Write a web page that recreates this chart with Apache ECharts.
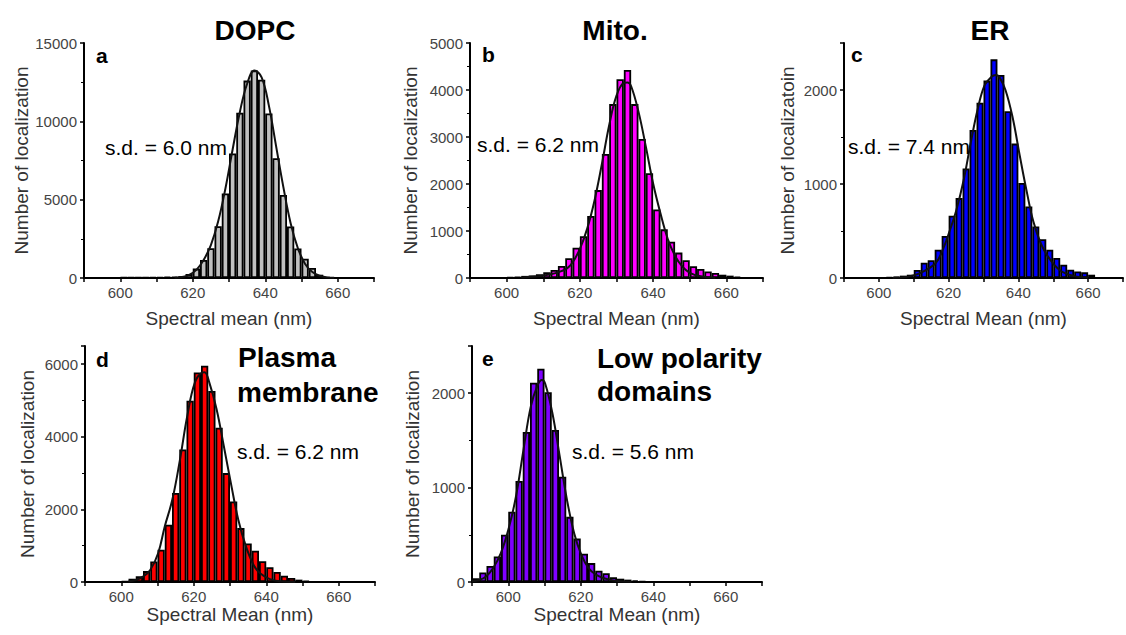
<!DOCTYPE html>
<html>
<head>
<meta charset="utf-8">
<title>Spectral mean histograms</title>
<script src="https://cdn.jsdelivr.net/npm/echarts@6/dist/echarts.min.js"></script>
<style>
html, body { margin: 0; padding: 0; background: #fff; }
#chart { width: 1126px; height: 635px; }
</style>
</head>
<body>
<div id="chart"></div>
<script>
// ---- data (2 nm bins, bin centres in nm) ----

// a - DOPC
var dopcBins   = [601, 603, 605, 607, 609, 611, 613, 615, 617, 619, 621, 623, 625, 627, 629, 631, 633, 635, 637, 639, 641, 643, 645, 647, 649, 651, 653, 655, 657];
var dopcCounts = [30, 30, 40, 40, 50, 60, 70, 90, 120, 250, 600, 1150, 1900, 3300, 5400, 7950, 10550, 12600, 13250, 12650, 10500, 7640, 5300, 3290, 1880, 1230, 640, 210, 60];
var dopcFitX   = [615, 617, 619, 621, 623, 625, 627, 629, 631, 633, 635, 637, 639, 641, 643, 645, 647, 649, 651, 653, 655, 657, 659];
var dopcFitY   = [20, 60, 200, 520, 1150, 2100, 3600, 5700, 8200, 10600, 12400, 13250, 12800, 11000, 8400, 5800, 3500, 1900, 900, 380, 140, 40, 10];

// b - Mito.
var mitoBins   = [601, 603, 605, 607, 609, 611, 613, 615, 617, 619, 621, 623, 625, 627, 629, 631, 633, 635, 637, 639, 641, 643, 645, 647, 649, 651, 653, 655, 657, 659, 661, 663];
var mitoCounts = [20, 25, 45, 55, 80, 120, 170, 255, 420, 645, 890, 1320, 1870, 2640, 3700, 4230, 4425, 3700, 2960, 2230, 1460, 1035, 770, 540, 380, 250, 190, 140, 105, 70, 50, 30];
var mitoFitX   = [604, 608, 612, 614, 616.4, 618, 620, 622, 624, 626, 628, 630, 632, 633, 634, 636, 638, 640, 642, 644, 646, 648, 650, 653, 657];
var mitoFitY   = [10, 30, 80, 120, 200, 330, 620, 1050, 1650, 2420, 3250, 3880, 4150, 4160, 4080, 3540, 2800, 2010, 1375, 830, 470, 240, 110, 35, 5];

// c - ER
var erBins   = [603, 605, 607, 609, 611, 613, 615, 617, 619, 621, 623, 625, 627, 629, 631, 633, 635, 637, 639, 641, 643, 645, 647, 649, 651, 653, 655, 657, 659, 661];
var erCounts = [10, 15, 25, 35, 85, 163, 190, 300, 447, 663, 850, 1165, 1575, 1865, 2100, 2326, 2160, 1775, 1430, 1010, 760, 548, 413, 300, 212, 141, 88, 70, 60, 35];
var erFitX   = [604, 608, 612, 616.3, 618.3, 620.2, 622.2, 624.3, 626.4, 628.3, 630.3, 632.3, 633.5, 634.5, 636.3, 638.4, 640.4, 642.5, 644.3, 646.4, 648.5, 652, 656, 660];
var erFitY   = [3, 12, 55, 160, 300, 490, 720, 1040, 1450, 1790, 2050, 2140, 2160, 2140, 2000, 1700, 1300, 900, 600, 370, 227, 80, 20, 5];

// d - Plasma membrane
var pmBins   = [601, 603, 605, 607, 609, 611, 613, 615, 617, 619, 621, 623, 625, 627, 629, 631, 633, 635, 637, 639, 641, 643, 645, 647, 649, 651];
var pmCounts = [20, 90, 160, 300, 565, 890, 1580, 2450, 3650, 4990, 5770, 5954, 5260, 4250, 3000, 2220, 1485, 1060, 860, 570, 405, 277, 175, 110, 65, 37];
var pmFitX   = [602, 604, 606, 608, 610.2, 612, 614.1, 616.2, 618.2, 620.3, 622.3, 623, 624.3, 626.3, 628.3, 630.4, 632.3, 634.4, 636.5, 638.3, 641, 644, 648];
var pmFitY   = [20, 55, 150, 330, 800, 1530, 2270, 3370, 4570, 5490, 5770, 5780, 5490, 4760, 3740, 2640, 1710, 980, 470, 240, 80, 20, 3];

// e - Low polarity domains
var lpBins   = [591, 593, 595, 597, 599, 601, 603, 605, 607, 609, 611, 613, 615, 617, 619, 621, 623, 625, 627, 629, 631, 633, 635, 637];
var lpCounts = [40, 100, 170, 270, 500, 745, 1070, 1590, 2110, 2260, 2010, 1610, 1115, 690, 460, 300, 200, 120, 92, 50, 35, 25, 18, 10];
var lpFitX   = [590, 591.9, 593.8, 595.8, 597.9, 600, 602.1, 604.2, 606.2, 608.1, 609.3, 610.2, 612.2, 614.2, 616.2, 618.2, 620.2, 622.2, 624.3, 626.4, 630, 634];
var lpFitY   = [8, 20, 56, 145, 300, 550, 900, 1400, 1855, 2085, 2140, 2100, 1785, 1330, 870, 515, 285, 145, 75, 40, 10, 2];

var sdLabels = ['s.d. = 6.0 nm', 's.d. = 6.2 nm', 's.d. = 7.4 nm', 's.d. = 6.2 nm', 's.d. = 5.6 nm'];

// ---- layout ----
var FONT = 'Arial, "Liberation Sans", Helvetica, sans-serif';

var panels = [
	{ bins: dopcBins, counts: dopcCounts, fx: dopcFitX, fy: dopcFitY, color: '#c0c0c0',
	  left: 84, top: 43, width: 290, height: 235, yMax: 15000, yStep: 5000,
	  yName: 'Number of localization', xName: 'Spectral mean (nm)', xGap: 31, yGap: 52 },
	{ bins: mitoBins, counts: mitoCounts, fx: mitoFitX, fy: mitoFitY, color: '#ff00ff',
	  left: 470, top: 43, width: 293, height: 235, yMax: 5000, yStep: 1000,
	  yName: 'Number of localization', xName: 'Spectral Mean (nm)', xGap: 31, yGap: 50 },
	{ bins: erBins, counts: erCounts, fx: erFitX, fy: erFitY, color: '#0000ff',
	  left: 844, top: 43, width: 290, height: 235, yMax: 2500, yStep: 1000,
	  yName: 'Number of localizatoin', xName: 'Spectral Mean (nm)', xGap: 31, yGap: 47 },
	{ bins: pmBins, counts: pmCounts, fx: pmFitX, fy: pmFitY, color: '#ff0000',
	  left: 85, top: 346, width: 290, height: 236, yMax: 6500, yStep: 2000,
	  yName: 'Number of localization', xName: 'Spectral Mean (nm)', xGap: 23, yGap: 48 },
	{ bins: lpBins, counts: lpCounts, fx: lpFitX, fy: lpFitY, color: '#7f00ff',
	  left: 472, top: 346, width: 290, height: 236, yMax: 2500, yStep: 1000,
	  yName: 'Number of localization', xName: 'Spectral Mean (nm)', xGap: 23, yGap: 50 }
];

var grids = [], xAxes = [], yAxes = [], series = [];

panels.forEach(function (p, i) {
	grids.push({ left: p.left, top: p.top, width: p.width, height: p.height });

	xAxes.push({
		gridIndex: i, type: 'value', min: 590, max: 670, interval: 10,
		name: p.xName, nameLocation: 'middle', nameGap: p.xGap,
		nameTextStyle: { fontFamily: FONT, fontSize: 19, color: '#333' },
		axisLine: { lineStyle: { color: '#000', width: 2 } },
		axisTick: { length: 4, lineStyle: { color: '#000', width: 1.5 } },
		axisLabel: {
			margin: 7, fontFamily: FONT, fontSize: 15, color: '#444',
			formatter: function (v) { return (v % 20 === 0 && v > 590 && v < 670) ? String(v) : ''; }
		},
		splitLine: { show: false }
	});

	yAxes.push({
		gridIndex: i, type: 'value', min: 0, max: p.yMax, interval: p.yStep,
		name: p.yName, nameLocation: 'middle', nameGap: p.yGap,
		nameTextStyle: { fontFamily: FONT, fontSize: 19, color: '#333' },
		axisLine: { show: true, lineStyle: { color: '#000', width: 2 } },
		axisTick: { show: true, length: 4, lineStyle: { color: '#000', width: 1.5 } },
		minorTick: { show: true, splitNumber: 2, length: 3, lineStyle: { color: '#000', width: 1 } },
		axisLabel: {
			margin: 7, fontFamily: FONT, fontSize: 15, color: '#444',
			formatter: function (v) { return v % p.yStep === 0 ? String(v) : ''; }
		},
		splitLine: { show: false }
	});

	series.push({
		type: 'bar', xAxisIndex: i, yAxisIndex: i,
		barWidth: '100%',
		data: p.bins.map(function (b, k) { return [b, p.counts[k]]; }),
		itemStyle: { color: p.color, borderColor: '#000', borderWidth: 1.8 },
		silent: true, animation: false
	});

	series.push({
		type: 'line', xAxisIndex: i, yAxisIndex: i,
		data: p.fx.map(function (x, k) { return [x, p.fy[k]]; }),
		smooth: 0.4, showSymbol: false, z: 5,
		lineStyle: { color: '#111', width: 2 },
		silent: true, animation: false
	});
});

function txt(x, y, s, size, bold, align) {
	return {
		type: 'text', x: x, y: y, z: 100,
		style: {
			text: s, fill: '#000',
			font: (bold ? 'bold ' : '') + size + 'px ' + FONT,
			align: align || 'left', verticalAlign: 'middle',
			textAlign: align || 'left', textVerticalAlign: 'middle'
		}
	};
}

var graphics = [
	// panel titles
	txt(255, 30, 'DOPC', 28, true, 'center'),
	txt(615, 30, 'Mito.', 28, true, 'center'),
	txt(990, 30, 'ER', 28, true, 'center'),
	txt(238, 357, 'Plasma', 28, true),
	txt(237, 392, 'membrane', 28, true),
	txt(597, 358, 'Low polarity', 28, true),
	txt(597, 391, 'domains', 28, true),
	// panel letters
	txt(96, 55, 'a', 21, true),
	txt(482, 54, 'b', 21, true),
	txt(851, 54, 'c', 21, true),
	txt(96, 359, 'd', 21, true),
	txt(482, 358, 'e', 21, true),
	// s.d. labels
	txt(105, 147, sdLabels[0], 21, false),
	txt(477, 144, sdLabels[1], 21, false),
	txt(848, 146, sdLabels[2], 21, false),
	txt(237, 451, sdLabels[3], 21, false),
	txt(572, 451, sdLabels[4], 21, false)
];

var myChart = echarts.init(document.getElementById('chart'), null, { renderer: 'svg' });
myChart.setOption({
	animation: false,
	backgroundColor: '#fff',
	grid: grids,
	xAxis: xAxes,
	yAxis: yAxes,
	series: series,
	graphic: graphics
});
</script>
</body>
</html>
